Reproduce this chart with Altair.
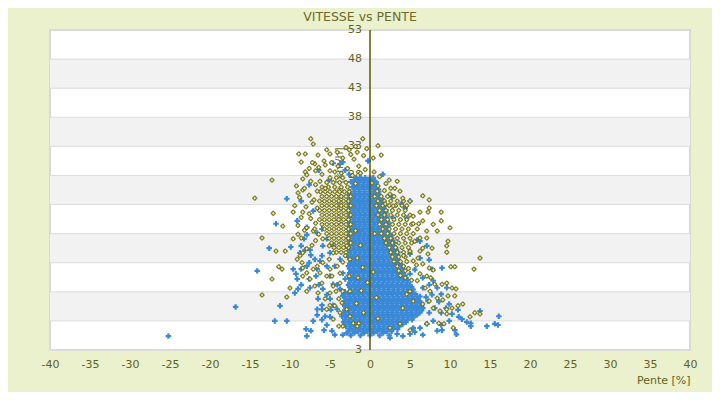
import altair as alt
import pandas as pd

FONT = "DejaVu Sans"
LABEL = "#5f6320"
BLUE = "#3a89d9"

title_text = "VITESSE vs PENTE"
x_title = "Pente [%]"
y_title = "Vitesse [km/h]"

x_ticks = [-40, -35, -30, -25, -20, -15, -10, -5, 0, 5, 10, 15, 20, 25, 30, 35, 40]
y_ticks = [-2, 3, 8, 13, 18, 23, 28, 33, 38, 43, 48, 53]
y_tick_labels = ["3", "3", "8", "13", "18", "23", "28", "33", "38", "43", "48", "53"]
band_lo = [3, 13, 23, 33, 43]
band_hi = [8, 18, 28, 38, 48]

# ---- blue series: dense core, row by row (speed value, slope values)
blue_core_y = [27.6, 26.8, 26.0, 25.2, 24.4, 23.6, 22.8, 22.0, 21.2, 20.4, 19.6, 18.8,
               18.0, 17.2, 16.4, 15.6, 14.8, 14.0, 13.2, 12.4, 11.6, 10.8, 10.0, 9.2,
               8.4, 7.6, 6.8, 6.0, 5.2, 4.4, 3.6, 2.8, 2.0, 1.2, 0.5]
blue_core_x = [
    [-1.8, -1.2, -0.6, 0.0, 0.4],
    [-2.1, -1.5, -0.9, -0.3, 0.3, 0.8],
    [-2.2, -1.6, -1.0, -0.4, 0.2, 0.8],
    [-2.5, -1.9, -1.3, -0.7, -0.1, 0.5, 1.1],
    [-2.4, -1.8, -1.2, -0.6, 0.0, 0.6, 1.2],
    [-2.7, -2.1, -1.5, -0.9, -0.3, 0.3, 0.9, 1.5],
    [-2.4, -1.8, -1.2, -0.6, 0.0, 0.6, 1.2, 1.8],
    [-2.7, -2.1, -1.5, -0.9, -0.3, 0.3, 0.9, 1.5, 2.0],
    [-2.4, -1.8, -1.2, -0.6, 0.0, 0.6, 1.2, 1.8],
    [-2.7, -2.1, -1.5, -0.9, -0.3, 0.3, 0.9, 1.5, 2.1],
    [-2.4, -1.8, -1.2, -0.6, 0.0, 0.6, 1.2, 1.8, 2.3],
    [-2.7, -2.1, -1.5, -0.9, -0.3, 0.3, 0.9, 1.5, 2.1],
    [-2.4, -1.8, -1.2, -0.6, 0.0, 0.6, 1.2, 1.8, 2.4],
    [-2.7, -2.1, -1.5, -0.9, -0.3, 0.3, 0.9, 1.5, 2.1, 2.7],
    [-2.4, -1.8, -1.2, -0.6, 0.0, 0.6, 1.2, 1.8, 2.4, 3.0],
    [-2.7, -2.1, -1.5, -0.9, -0.3, 0.3, 0.9, 1.5, 2.1, 2.7, 3.2],
    [-2.4, -1.8, -1.2, -0.6, 0.0, 0.6, 1.2, 1.8, 2.4, 3.0, 3.5],
    [-2.7, -2.1, -1.5, -0.9, -0.3, 0.3, 0.9, 1.5, 2.1, 2.7, 3.3],
    [-2.4, -1.8, -1.2, -0.6, 0.0, 0.6, 1.2, 1.8, 2.4, 3.0, 3.6],
    [-2.7, -2.1, -1.5, -0.9, -0.3, 0.3, 0.9, 1.5, 2.1, 2.7, 3.3, 3.9],
    [-2.4, -1.8, -1.2, -0.6, 0.0, 0.6, 1.2, 1.8, 2.4, 3.0, 3.6, 4.2],
    [-2.7, -2.1, -1.5, -0.9, -0.3, 0.3, 0.9, 1.5, 2.1, 2.7, 3.3, 3.9, 4.4],
    [-2.4, -1.8, -1.2, -0.6, 0.0, 0.6, 1.2, 1.8, 2.4, 3.0, 3.6, 4.2, 4.7],
    [-2.7, -2.1, -1.5, -0.9, -0.3, 0.3, 0.9, 1.5, 2.1, 2.7, 3.3, 3.9, 4.5, 5.0],
    [-2.4, -1.8, -1.2, -0.6, 0.0, 0.6, 1.2, 1.8, 2.4, 3.0, 3.6, 4.2, 4.8, 5.4],
    [-3.3, -2.7, -2.1, -1.5, -0.9, -0.3, 0.3, 0.9, 1.5, 2.1, 2.7, 3.3, 3.9, 4.5, 5.1, 5.7],
    [-3.0, -2.4, -1.8, -1.2, -0.6, 0.0, 0.6, 1.2, 1.8, 2.4, 3.0, 3.6, 4.2, 4.8, 5.4, 6.0],
    [-3.3, -2.7, -2.1, -1.5, -0.9, -0.3, 0.3, 0.9, 1.5, 2.1, 2.7, 3.3, 3.9, 4.5, 5.1, 5.7, 6.3],
    [-3.0, -2.4, -1.8, -1.2, -0.6, 0.0, 0.6, 1.2, 1.8, 2.4, 3.0, 3.6, 4.2, 4.8, 5.4, 6.0, 6.6],
    [-3.3, -2.7, -2.1, -1.5, -0.9, -0.3, 0.3, 0.9, 1.5, 2.1, 2.7, 3.3, 3.9, 4.5, 5.1, 5.7, 6.2],
    [-3.0, -2.4, -1.8, -1.2, -0.6, 0.0, 0.6, 1.2, 1.8, 2.4, 3.0, 3.6, 4.2, 4.8, 5.4],
    [-3.3, -2.7, -2.1, -1.5, -0.9, -0.3, 0.3, 0.9, 1.5, 2.1, 2.7, 3.3, 3.9, 4.5],
    [-3.0, -2.4, -1.8, -1.2, -0.6, 0.0, 0.6, 1.2, 1.8, 2.4, 3.0, 3.6],
    [-2.7, -2.1, -1.5, -0.9, -0.3, 0.3, 0.9, 1.5, 2.1, 2.7],
    [-2.4, -1.2, 0.0, 1.2, 2.4],
]

# ---- blue series: dense core, in-between rows
blue_core2_y = [27.2, 26.4, 25.6, 24.8, 24.0, 23.2, 22.4, 21.6, 20.8, 20.0, 19.2, 18.4,
                17.6, 16.8, 16.0, 15.2, 14.4, 13.6, 12.8, 12.0, 11.2, 10.4, 9.6, 8.8,
                8.0, 7.2, 6.4, 5.6, 4.8, 4.0, 3.2, 2.4, 1.6, 0.9]
blue_core2_x = [
    [-1.95, -1.35, -0.75, -0.15, 0.45],
    [-1.95, -1.35, -0.75, -0.15, 0.45],
    [-1.95, -1.35, -0.75, -0.15, 0.45, 1.05],
    [-2.55, -1.95, -1.35, -0.75, -0.15, 0.45, 1.05],
    [-2.55, -1.95, -1.35, -0.75, -0.15, 0.45, 1.05, 1.5],
    [-2.55, -1.95, -1.35, -0.75, -0.15, 0.45, 1.05, 1.65],
    [-2.55, -1.95, -1.35, -0.75, -0.15, 0.45, 1.05, 1.65],
    [-2.55, -1.95, -1.35, -0.75, -0.15, 0.45, 1.05, 1.65, 2.0],
    [-2.55, -1.95, -1.35, -0.75, -0.15, 0.45, 1.05, 1.65, 2.1],
    [-2.55, -1.95, -1.35, -0.75, -0.15, 0.45, 1.05, 1.65, 2.25],
    [-2.55, -1.95, -1.35, -0.75, -0.15, 0.45, 1.05, 1.65, 2.25],
    [-2.55, -1.95, -1.35, -0.75, -0.15, 0.45, 1.05, 1.65, 2.25],
    [-2.55, -1.95, -1.35, -0.75, -0.15, 0.45, 1.05, 1.65, 2.25, 2.6],
    [-2.55, -1.95, -1.35, -0.75, -0.15, 0.45, 1.05, 1.65, 2.25, 2.85],
    [-2.55, -1.95, -1.35, -0.75, -0.15, 0.45, 1.05, 1.65, 2.25, 2.85],
    [-2.55, -1.95, -1.35, -0.75, -0.15, 0.45, 1.05, 1.65, 2.25, 2.85, 3.3],
    [-2.55, -1.95, -1.35, -0.75, -0.15, 0.45, 1.05, 1.65, 2.25, 2.85, 3.45],
    [-2.55, -1.95, -1.35, -0.75, -0.15, 0.45, 1.05, 1.65, 2.25, 2.85, 3.45],
    [-2.55, -1.95, -1.35, -0.75, -0.15, 0.45, 1.05, 1.65, 2.25, 2.85, 3.45, 3.8],
    [-2.55, -1.95, -1.35, -0.75, -0.15, 0.45, 1.05, 1.65, 2.25, 2.85, 3.45, 4.05],
    [-2.55, -1.95, -1.35, -0.75, -0.15, 0.45, 1.05, 1.65, 2.25, 2.85, 3.45, 4.05],
    [-2.55, -1.95, -1.35, -0.75, -0.15, 0.45, 1.05, 1.65, 2.25, 2.85, 3.45, 4.05, 4.5],
    [-2.55, -1.95, -1.35, -0.75, -0.15, 0.45, 1.05, 1.65, 2.25, 2.85, 3.45, 4.05, 4.65],
    [-2.55, -1.95, -1.35, -0.75, -0.15, 0.45, 1.05, 1.65, 2.25, 2.85, 3.45, 4.05, 4.65, 5.2],
    [-3.15, -2.55, -1.95, -1.35, -0.75, -0.15, 0.45, 1.05, 1.65, 2.25, 2.85, 3.45, 4.05,
     4.65, 5.25],
    [-3.15, -2.55, -1.95, -1.35, -0.75, -0.15, 0.45, 1.05, 1.65, 2.25, 2.85, 3.45, 4.05,
     4.65, 5.25, 5.85],
    [-3.15, -2.55, -1.95, -1.35, -0.75, -0.15, 0.45, 1.05, 1.65, 2.25, 2.85, 3.45, 4.05,
     4.65, 5.25, 5.85, 6.2],
    [-3.15, -2.55, -1.95, -1.35, -0.75, -0.15, 0.45, 1.05, 1.65, 2.25, 2.85, 3.45, 4.05,
     4.65, 5.25, 5.85, 6.45],
    [-3.15, -2.55, -1.95, -1.35, -0.75, -0.15, 0.45, 1.05, 1.65, 2.25, 2.85, 3.45, 4.05,
     4.65, 5.25, 5.85, 6.45],
    [-3.15, -2.55, -1.95, -1.35, -0.75, -0.15, 0.45, 1.05, 1.65, 2.25, 2.85, 3.45, 4.05,
     4.65, 5.25, 5.85],
    [-3.15, -2.55, -1.95, -1.35, -0.75, -0.15, 0.45, 1.05, 1.65, 2.25, 2.85, 3.45, 4.05,
     4.65, 5.25],
    [-3.15, -2.55, -1.95, -1.35, -0.75, -0.15, 0.45, 1.05, 1.65, 2.25, 2.85, 3.45, 4.05],
    [-2.55, -1.95, -1.35, -0.75, -0.15, 0.45, 1.05, 1.65, 2.25, 2.85, 3.45],
    [-1.95, -0.75, 0.45, 1.65],
]

# ---- blue series: scattered points (slope, speed)
blue_pts = [
    (-25.2, 0.4), (-16.8, 5.4), (-14.1, 11.6), (-12.6, 15.5), (-11.9, 3.0), (-10.4, 3.0),
    (-11.25, 5.6), (-9.9, 15.7), (-7.9, 19.1), (-8.0, 1.6), (-7.4, 1.3), (-7.9, 0.4),
    (-6.5, 6.8), (-9.0, 8.5), (-9.4, 7.8), (-9.6, 11.9), (-9.25, 11.1), (-8.75, 14.7),
    (-8.1, 15.2), (-10.4, 24.0), (-11.75, 19.7), (-9.1, 20.2), (-8.6, 23.6), (-7.6, 26.4),
    (-7.1, 21.9), (-6.4, 28.9), (-5.1, 27.2), (-4.6, 30.1), (-3.75, 30.0), (-3.4, 30.3),
    (-3.1, 28.9), (-2.6, 28.2), (-2.4, 26.9), (-1.25, 27.6), (-0.25, 30.5), (1.6, 28.2),
    (-7.5, 15.2), (-7.4, 14.3), (-6.9, 13.6), (-7.6, 13.0), (-8.6, 11.9), (-7.9, 12.4),
    (-6.6, 11.9), (-6.0, 14.2), (-5.4, 17.1), (-5.9, 15.9), (-9.1, 10.2), (-8.6, 9.2),
    (-7.6, 10.2), (-7.5, 8.7), (-5.9, 8.5), (-5.4, 7.5), (-5.0, 6.8), (-4.6, 5.7),
    (-4.1, 5.0), (-4.9, 4.9), (-5.6, 3.8), (-5.4, 2.3), (-5.75, 1.4), (-4.75, 1.3),
    (-4.4, 0.6), (-3.4, 0.6), (-2.9, 0.9), (-3.5, 3.8), (-2.9, 5.6), (-3.4, 7.3),
    (-3.75, 8.5), (-4.1, 9.2), (-3.1, 10.2), (-3.4, 11.2), (-4.4, 12.4), (-3.75, 13.6),
    (-5.0, 10.7), (-4.6, 9.3), (-6.4, 9.2), (-6.75, 10.7), (-6.25, 13.3), (-7.9, 17.8),
    (-8.25, 17.1), (-8.6, 15.9), (-6.6, 18.1), (-6.0, 18.8), (-4.6, 15.9), (-5.4, 12.4),
    (-5.0, 14.7), (-6.6, 5.0), (-6.0, 5.7), (-6.0, 5.0), (-6.6, 4.0), (-7.1, 3.0),
    (-6.0, 3.2), (-5.0, 3.7),
    (7.1, 15.9), (7.4, 13.5), (9.0, 12.1), (7.75, 11.9), (5.6, 11.8), (8.9, 7.6),
    (9.9, 5.9), (9.5, 5.2), (8.6, 6.3), (11.1, 3.7), (11.5, 3.3), (12.1, 2.8),
    (12.6, 2.6), (12.6, 2.1), (13.75, 4.7), (14.6, 2.1), (15.6, 2.5), (16.0, 2.3),
    (16.1, 3.8), (9.0, 1.4), (10.6, 1.4), (10.8, 0.7), (6.6, 0.6), (5.6, 1.1),
    (7.4, 9.2), (7.75, 7.5), (6.25, 7.2), (7.0, 7.1), (2.75, 24.3), (3.9, 23.1),
    (5.0, 23.6), (4.4, 22.4), (2.9, 20.7), (4.6, 20.7), (6.25, 16.7), (5.9, 16.9),
    (5.0, 14.5), (6.25, 13.8), (5.0, 11.1), (6.6, 10.4), (7.9, 9.9), (8.4, 8.7),
    (9.6, 8.7), (6.6, 8.7), (7.25, 6.4), (8.1, 5.2), (8.9, 4.4), (7.4, 4.4),
    (7.9, 3.0), (7.1, 2.5), (8.9, 2.3), (9.9, 3.0), (10.25, 4.2), (11.0, 4.9),
    (5.4, 1.8), (6.25, 1.8), (5.0, 0.75), (4.1, 0.4), (8.4, 1.3), (3.4, 0.75), (2.5, 0.1),
]

# ---- olive series: dense cloud left of zero (speed rows, slope values)
olive_lcore_y = [27.6, 26.8, 26.0, 25.2, 24.4, 23.6, 22.8, 22.0, 21.2, 20.4, 19.6,
                 18.8, 18.0, 17.2, 16.4, 15.6, 14.8]
olive_lcore_x = [
    [-5.0, -4.2, -3.4],
    [-5.4, -4.6, -3.8, -3.0],
    [-6.0, -5.2, -4.4, -3.6, -2.8],
    [-6.2, -5.6, -5.0, -4.4, -3.8, -3.2, -2.6],
    [-6.0, -5.4, -4.8, -4.2, -3.6, -3.0, -2.4],
    [-6.3, -5.7, -5.1, -4.5, -3.9, -3.3, -2.7],
    [-6.0, -5.4, -4.8, -4.2, -3.6, -3.0, -2.4],
    [-6.3, -5.7, -5.1, -4.5, -3.9, -3.3, -2.7],
    [-6.0, -5.4, -4.8, -4.2, -3.6, -3.0, -2.4],
    [-6.3, -5.7, -5.1, -4.5, -3.9, -3.3, -2.7],
    [-6.0, -5.4, -4.8, -4.2, -3.6, -3.0, -2.4],
    [-5.7, -5.1, -4.5, -3.9, -3.3, -2.7],
    [-5.4, -4.8, -4.2, -3.6, -3.0, -2.4],
    [-5.1, -4.5, -3.9, -3.3, -2.7],
    [-4.8, -4.2, -3.6, -3.0, -2.4],
    [-4.5, -3.9, -3.3, -2.7],
    [-4.2, -3.6, -3.0],
]

# ---- olive series: dense cloud right of zero
olive_rcore_y = [24.4, 23.6, 22.8, 22.0, 21.2, 20.4, 19.6, 18.8, 18.0, 17.2, 16.4,
                 15.6, 14.8, 14.0, 13.2, 12.4, 11.6, 10.8]
olive_rcore_x = [
    [0.6, 1.4, 2.2, 3.0],
    [1.0, 1.8, 2.6, 3.4, 4.2],
    [0.8, 1.6, 2.4, 3.2, 4.0, 4.6],
    [1.2, 2.0, 2.8, 3.6, 4.4],
    [1.0, 1.8, 2.6, 3.4, 4.2, 5.0],
    [1.4, 2.2, 3.0, 3.8, 4.6],
    [1.2, 2.0, 2.8, 3.6, 4.4, 5.2],
    [1.6, 2.4, 3.2, 4.0, 4.8],
    [1.4, 2.2, 3.0, 3.8, 4.6, 5.4],
    [1.8, 2.6, 3.4, 4.2, 5.0],
    [2.0, 2.8, 3.6, 4.4, 5.2],
    [2.4, 3.2, 4.0, 4.8],
    [2.6, 3.4, 4.2, 5.0],
    [2.8, 3.6, 4.4],
    [3.0, 3.8, 4.6],
    [3.4, 4.2],
    [3.6, 4.4],
    [3.8],
]

# ---- olive series: scattered points (slope, speed)
olive_pts = [
    (-7.4, 34.3), (-7.1, 33.4), (-8.9, 31.7), (-8.1, 31.7), (-8.6, 30.3), (-6.5, 31.5),
    (-5.4, 32.4), (-5.75, 30.5), (-5.0, 31.7), (-4.1, 32.0), (-6.9, 30.0), (-8.1, 28.6),
    (-7.9, 28.1), (-12.25, 27.2), (-14.4, 24.1), (-12.1, 21.5), (-10.9, 19.3), (-13.5, 17.25),
    (-9.0, 25.0), (-8.4, 25.5), (-9.6, 21.7), (-8.4, 21.7), (-7.6, 21.4), (-7.25, 23.4),
    (-6.6, 22.4), (-6.6, 25.3), (-6.25, 27.0), (-5.6, 25.8), (-5.0, 28.8), (-2.6, 32.4),
    (-1.6, 32.0), (-0.9, 34.3), (-7.1, 18.45), (-6.4, 17.9), (-8.6, 17.25), (-7.9, 19.0),
    (-6.8, 16.8),
    (-11.75, 15.0), (-10.6, 15.0), (-11.4, 12.3), (-11.0, 11.9), (-12.25, 10.2), (-13.5, 7.45),
    (-10.0, 8.65), (-10.4, 7.1), (-9.6, 17.1), (-9.0, 17.9), (-9.1, 13.6), (-8.75, 14.2),
    (-8.5, 13.0), (-8.4, 12.1), (-7.9, 11.25), (-8.4, 10.7), (-7.5, 10.2), (-7.1, 11.9),
    (-6.6, 12.4), (-6.25, 11.25), (-6.0, 9.5), (-5.4, 10.7), (-5.0, 11.9), (-5.9, 13.0),
    (-5.1, 13.6), (-4.75, 10.7), (-4.6, 9.0), (-5.0, 7.8), (-4.25, 8.1), (-3.9, 6.8),
    (-4.4, 5.6), (-3.75, 4.4), (-3.5, 6.1), (-3.4, 8.1), (-3.75, 9.5), (-3.75, 11.2),
    (-4.1, 12.4), (-3.4, 13.1), (-4.6, 14.7), (-5.1, 15.9), (-5.9, 17.1), (-6.9, 18.8),
    (-7.25, 16.0), (-7.9, 15.4), (-8.4, 14.7), (-2.9, 15.9), (-3.1, 14.2), (-2.5, 13.6),
    (-2.6, 10.7), (-2.5, 8.1), (-2.9, 5.0), (-2.5, 3.8), (-2.1, 2.6), (-3.4, 2.1),
    (-3.9, 2.1), (-4.6, 3.3), (-5.0, 5.7), (-5.6, 6.8), (-6.5, 7.8), (-6.9, 9.0),
    (-7.9, 8.1), (-5.4, 5.0), (-1.6, 2.1),
    (-7.2, 30.2), (-6.4, 29.4), (-5.6, 29.8), (-4.8, 30.2), (-4.0, 29.6), (-3.4, 31.0),
    (-7.6, 29.2), (-6.8, 28.8), (-6.0, 28.2), (-4.4, 28.6), (-3.6, 28.4), (-2.8, 29.2),
    (-8.4, 27.4), (-7.4, 27.0), (-6.8, 26.4), (-9.2, 26.2), (-8.2, 25.8), (-7.6, 24.6),
    (-8.8, 24.2), (-7.0, 23.8), (-9.4, 22.8), (-8.0, 22.6), (-8.6, 20.8), (-7.4, 20.6),
    (-6.8, 19.8), (-9.0, 19.4), (-8.2, 18.6), (-2.0, 30.8), (-1.4, 29.6), (-0.8, 31.4),
    (-2.4, 31.6), (-1.8, 33.0), (-0.6, 29.0), (-3.0, 32.8), (-1.2, 28.4), (-0.4, 32.6),
    (-2.2, 28.0), (-1.8, 26.6),
    (-1.8, 18.5), (-1.2, 16.0), (-1.6, 13.8), (-0.9, 12.2), (-1.5, 10.4), (-1.1, 8.2),
    (-1.7, 6.0), (-0.8, 4.4), (-1.4, 2.6), (0.4, 11.4), (0.8, 7.0), (1.0, 3.4),
    (-0.3, 9.6), (0.6, 18.0),
    (1.0, 33.1), (0.4, 31.0), (1.4, 31.5), (0.25, 26.7), (2.4, 27.2), (3.4, 27.0),
    (6.6, 24.5), (7.4, 22.4), (8.9, 21.7), (7.25, 21.7), (10.0, 19.0), (8.9, 20.2),
    (8.4, 18.45), (7.9, 19.6), (9.75, 16.7), (9.6, 15.9), (9.6, 14.8), (13.75, 13.8),
    (13.0, 11.9), (10.1, 12.3), (10.6, 12.3), (7.1, 10.7), (7.6, 10.4), (7.9, 11.75),
    (8.1, 9.3), (9.0, 9.3), (9.6, 9.5), (10.25, 8.65), (10.75, 8.5), (9.1, 6.6),
    (9.75, 7.3), (10.6, 7.3), (11.6, 5.9), (11.0, 5.6), (10.25, 5.2), (9.6, 5.0),
    (9.6, 4.2), (12.5, 3.7), (13.1, 4.4), (13.75, 4.2), (8.6, 2.6), (9.25, 2.5),
    (10.4, 1.8), (7.1, 2.5), (5.0, 1.4), (3.75, 2.5), (2.5, 1.8),
    (5.9, 18.8), (6.1, 19.7), (6.6, 20.2), (6.25, 21.7), (7.4, 23.8), (5.4, 21.0),
    (4.1, 24.1), (3.75, 25.3), (3.1, 25.8), (5.0, 23.6), (5.4, 19.7), (7.1, 17.25),
    (7.75, 15.5), (7.25, 14.5), (6.6, 15.5), (6.25, 15.0), (7.1, 18.45), (6.25, 17.25),
    (5.6, 16.7), (5.0, 15.0), (5.4, 13.3), (6.6, 12.8), (7.4, 12.1), (6.25, 11.1),
    (5.9, 9.9), (6.9, 8.65), (7.5, 8.1), (8.4, 6.9), (7.4, 6.4), (7.9, 5.2),
    (6.6, 5.9), (8.75, 4.7), (5.0, 8.1), (5.4, 6.4), (4.1, 5.2), (4.6, 7.6),
    (0.9, 25.3), (2.5, 24.8), (1.9, 23.1), (2.9, 22.75), (0.5, 28.6), (1.2, 27.8),
    (2.0, 26.6), (1.0, 26.2), (2.6, 25.8), (1.8, 25.4), (4.8, 12.0), (5.8, 12.6),
    (4.4, 10.4), (5.2, 10.0), (6.0, 13.8), (4.2, 14.2),
]


def build(rows_y, rows_x, pts):
    out = []
    for yv, xs_row in zip(rows_y, rows_x):
        for xv in xs_row:
            out.append({"x": xv, "y": yv})
    for xv, yv in pts:
        out.append({"x": xv, "y": yv})
    return out


blue_df = pd.DataFrame(build(blue_core_y, blue_core_x, []) +
                       build(blue_core2_y, blue_core2_x, blue_pts))
olive_df = pd.DataFrame(build(olive_lcore_y, olive_lcore_x, []) +
                        build(olive_rcore_y, olive_rcore_x, olive_pts))
bands_df = pd.DataFrame({"lo": band_lo, "hi": band_hi})
ticks_df = pd.DataFrame({"t": y_ticks, "label": y_tick_labels})
zero_df = pd.DataFrame({"v": [0]})
ytitle_df = pd.DataFrame({"label": [y_title]})

xs = alt.Scale(domain=[-40, 40], nice=False, zero=False)
ys = alt.Scale(domain=[-2, 53], nice=False, zero=False)

x_axis = alt.Axis(
    values=x_ticks, labelExpr="'' + datum.value", grid=False, ticks=False, domain=False,
    labelFont=FONT, labelFontSize=11, labelColor=LABEL, labelPadding=8, labelFlush=False,
    title=x_title, titleFont=FONT, titleFontSize=11, titleFontWeight="normal",
    titleColor=LABEL, titleAnchor="end", titlePadding=5,
)

bands = alt.Chart(bands_df).mark_rect(color="#f2f2f2").encode(
    y=alt.Y("lo:Q", scale=ys, axis=None), y2="hi:Q"
)
grid = alt.Chart(ticks_df).mark_rule(color="#dcdcdc", strokeWidth=1).encode(
    y=alt.Y("t:Q", scale=ys, axis=None)
)
ylabels = alt.Chart(ticks_df).mark_text(
    align="right", baseline="middle", dx=-8, font=FONT, fontSize=11, color=LABEL
).encode(
    x=alt.X("v0:Q", scale=xs, axis=x_axis),
    y=alt.Y("t:Q", scale=ys, axis=None),
    text="label:N",
).transform_calculate(v0="0")
ytitle = alt.Chart(ytitle_df).mark_text(
    angle=270, align="center", baseline="middle", font=FONT, fontSize=11, color="#74743e"
).encode(x=alt.value(290), y=alt.value(157), text="label:N")

blue = alt.Chart(blue_df).mark_point(
    shape="cross", filled=True, size=30, color=BLUE, opacity=1
).encode(
    x=alt.X("x:Q", scale=xs, axis=x_axis),
    y=alt.Y("y:Q", scale=ys, axis=None),
)
olive = alt.Chart(olive_df).mark_point(
    shape="cross", filled=True, size=16, fill="#f3f3c0", stroke="#66660a",
    strokeWidth=0.9, opacity=1, fillOpacity=1
).encode(
    x=alt.X("x:Q", scale=xs, axis=x_axis),
    y=alt.Y("y:Q", scale=ys, axis=None),
)
zero = alt.Chart(zero_df).mark_rule(color="#5a5a00", strokeWidth=1.5).encode(
    x=alt.X("v:Q", scale=xs, axis=x_axis), y=alt.value(0), y2=alt.value(320)
)

chart = alt.layer(bands, grid, ylabels, ytitle, blue, olive, zero).properties(
    width=640, height=320,
    padding={"left": 42, "top": 22, "right": 22, "bottom": 42},
    autosize=alt.AutoSizeParams(type="none"),
    background="#EBF0CD",
    title=alt.TitleParams(
        text=title_text, font=FONT, fontSize=12.5, fontWeight="normal",
        color="#6b6b2b", anchor="middle", offset=1, dx=-10,
    ),
).configure_view(fill="white", stroke="#d9d9d9", strokeWidth=2)

chart.save("out.html", embed_options={"renderer": "svg", "actions": False})
